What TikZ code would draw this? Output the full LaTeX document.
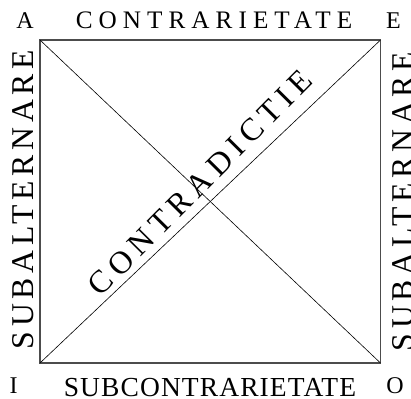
\documentclass[tikz,border=0pt]{standalone}
\usepackage{fontspec}
\setmainfont{Liberation Serif}
\newfontfamily\spTop[LetterSpace=24]{Liberation Serif}
\newfontfamily\spBot[LetterSpace=4]{Liberation Serif}
\newfontfamily\spSide[LetterSpace=15]{Liberation Serif}
\newfontfamily\spDiag[LetterSpace=19]{Liberation Serif}
\begin{document}
\begin{tikzpicture}[x=1bp,y=-1bp,
  lbl/.style={inner sep=0pt, anchor=base},
  corner/.style={lbl, font=\fontsize{24bp}{28bp}\selectfont},
  boxline/.style={draw=black!70, line width=1.1bp},
  diagline/.style={draw=black, line width=0.6bp}]
\useasboundingbox (0,0) rectangle (411,399);
\coordinate (cA) at (40,40);
\coordinate (cE) at (380.5,40);
\coordinate (cO) at (380.5,363);
\coordinate (cI) at (40,363);
\draw[boxline] (cA) -- (cE) -- (cO) -- (cI) -- cycle;
\draw[diagline] (cA) -- (cO);
\draw[diagline] (cI) -- (cE);
\node[corner] (lA) at (25,28) {A};
\node[corner] (lE) at (393.5,28) {E};
\node[corner] (lI) at (13.5,393) {I};
\node[corner] (lO) at (395,393.5) {O};
\node[lbl, font=\spTop\fontsize{25.2bp}{30bp}\selectfont] (top) at (214,28.3) {CONTRARIETATE};
\node[lbl, font=\spBot\fontsize{27.5bp}{32bp}\selectfont] (bot) at (210,396.5) {SUBCONTRARIETATE};
\node[lbl, rotate=90, font=\spSide\fontsize{31.7bp}{36bp}\selectfont] (left) at (33,199.6) {SUBALTERNARE};
\node[lbl, rotate=90, font=\spSide\fontsize{31.7bp}{36bp}\selectfont] (right) at (413,201.6) {SUBALTERNARE};
\node[lbl, rotate=45.3, font=\spDiag\fontsize{32bp}{36bp}\selectfont] (diag) at (207.6,190) {CONTRADICTIE};
\end{tikzpicture}
\end{document}
